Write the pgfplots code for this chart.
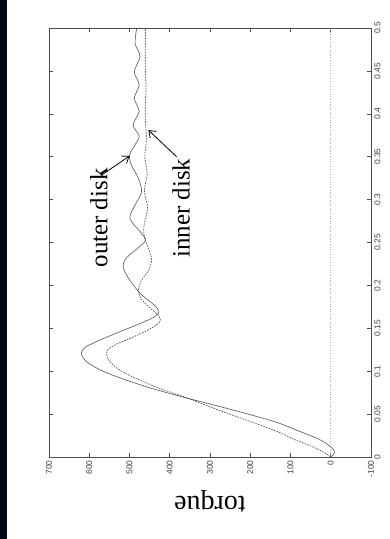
\documentclass[border=0pt]{standalone}
\usepackage{pgfplots}
\usepackage{pgfplotstable}
\pgfplotsset{compat=1.18}
\usetikzlibrary{arrows.meta}
\usepackage{fontspec}
\setmainfont{Liberation Serif}
\newfontfamily\ticksans{Liberation Sans}

% torque response of the two disks: time t, torque T
\pgfplotstableread{
t      T
0.000  0
0.003  -7
0.007  -9
0.011  -2
0.016  12
0.022  35
0.030  78
0.040  132
0.050  205
0.060  285
0.070  368
0.080  445
0.090  510
0.100  566
0.110  604
0.117  617
0.122  619
0.128  610
0.136  575
0.146  524
0.154  482
0.162  443
0.168  428
0.174  432
0.180  446
0.191  474
0.208  502
0.222  516
0.232  508
0.244  478
0.253  460
0.263  474
0.278  499
0.294  486
0.309  470
0.325  478
0.340  495
0.352  500
0.364  486
0.374  476
0.387  491
0.403  476
0.418  488
0.434  476
0.449  488
0.467  474
0.482  486
0.500  482
}\outerdisk

\pgfplotstableread{
t      T
0.000  0
0.005  15
0.012  45
0.020  88
0.030  135
0.043  210
0.057  292
0.068  352
0.080  425
0.090  476
0.100  520
0.110  547
0.118  556
0.125  554
0.132  530
0.140  490
0.150  446
0.158  424
0.165  428
0.175  452
0.185  472
0.195  478
0.206  470
0.218  452
0.230  445
0.243  453
0.256  463
0.270  464
0.290  455
0.310  463
0.330  456
0.350  462
0.370  458
0.400  461
0.430  459
0.460  461
0.500  460
}\innerdisk

\begin{document}
\begin{tikzpicture}[x=1bp,y=1bp]
\useasboundingbox (0,0) rectangle (389,-539);
\fill[fill={rgb,255:red,3;green,8;blue,22}] (0,0) rectangle (7,-539);
\begin{axis}[
  at={(49bp,-457bp)}, anchor=south west,
  scale only axis, width=322bp, height=429bp,
  xmin=-100, xmax=700, ymin=0, ymax=0.5,
  x dir=reverse,
  axis line style={black!70, line width=0.7pt},
  tick align=inside, major tick length=4bp,
  tick style={black!70, line width=0.6pt},
  xtick={-100,0,100,200,300,400,500,600,700},
  xticklabels={-100,0,100,200,300,400,500,600,700},
  ytick={0,0.05,0.1,0.15,0.2,0.25,0.3,0.35,0.4,0.45,0.5},
  yticklabels={0,0.05,0.1,0.15,0.2,0.25,0.3,0.35,0.4,0.45,0.5},
  yticklabel pos=right,
  xtick pos=both, ytick pos=both,
  ticklabel style={font=\ticksans\fontsize{8.5}{10}\selectfont, text=black!75},
  xticklabel style={rotate=90, anchor=east},
  yticklabel style={rotate=90, anchor=north},
  xlabel={torque},
  xlabel style={at={(axis description cs:0.5,-0.103)}, rotate=180, anchor=center,
    font=\fontsize{28}{32}\selectfont},
  clip=false,
]
\addplot[black!30, dotted, line width=0.6pt] coordinates {(0,0) (0,0.5)};
\addplot[black!60, line width=0.7pt, smooth, tension=0.5] table[x=T, y=t] {\outerdisk};
\addplot[black!70, line width=0.7pt, dash pattern=on 1.6pt off 1.2pt, smooth, tension=0.5] table[x=T, y=t] {\innerdisk};
\node[rotate=90, font=\fontsize{25}{30}\selectfont] at (axis cs:576,0.2786) {outer disk};
\node[rotate=90, font=\fontsize{25}{30}\selectfont] at (axis cs:372,0.290) {inner disk};
\draw[black, line width=0.8pt, -{Straight Barb[length=6bp,width=9bp]}] (axis cs:569,0.3287) -- (axis cs:500,0.3508);
\draw[black, line width=0.8pt, -{Straight Barb[length=6bp,width=9bp]}] (axis cs:383,0.350) -- (axis cs:453,0.381);
\end{axis}
\end{tikzpicture}
\end{document}
